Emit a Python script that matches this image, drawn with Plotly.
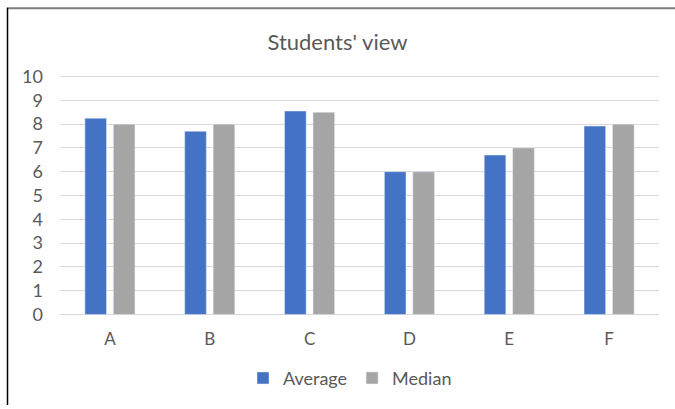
import plotly.graph_objects as go

categories = ["A", "B", "C", "D", "E", "F"]
average = [8.25, 7.7, 8.55, 6.0, 6.7, 7.92]
median = [8.0, 8.0, 8.5, 6.0, 7.0, 8.0]
y_ticks = list(range(0, 11))

FONT = "Lato"
TXT = "#595959"

fig = go.Figure()
fig.add_trace(go.Bar(x=categories, y=average, name="Average", marker_color="#4472C4"))
fig.add_trace(go.Bar(x=categories, y=median, name="Median", marker_color="#A5A5A5"))

W, H = 675, 409
L, R, T, B = 60, 16, 73, 88
pw, ph = W - L - R, H - T - B

def px_x(p):
    return (p - L) / pw

def px_y(p):
    return (H - B - p) / ph

fig.update_layout(
    width=W, height=H,
    margin=dict(l=L, r=R, t=T, b=B),
    paper_bgcolor="white", plot_bgcolor="white",
    barmode="group", bargap=0.43, bargroupgap=0.24,
    font=dict(family=FONT, color=TXT, size=17),
    title=dict(text="Students' view", x=0.5, xref="container", xanchor="center",
               y=1 - 42 / H, yref="container", yanchor="middle",
               font=dict(family=FONT, size=22, color=TXT)),
    legend=dict(orientation="h", x=px_x(350), xanchor="center", y=px_y(382), yanchor="middle",
                font=dict(family=FONT, size=18, color=TXT), itemwidth=30, traceorder="normal"),
    xaxis=dict(showgrid=False, showline=False, ticks="", ticklabelstandoff=9,
               tickfont=dict(family=FONT, size=17, color=TXT)),
    yaxis=dict(range=[-0.15, 10.15], tickvals=y_ticks, showgrid=True, gridcolor="#D9D9D9", gridwidth=1.3,
               zeroline=False, showline=False, ticks="", ticklabelstandoff=16,
               tickfont=dict(family=FONT, size=18, color=TXT)),
    shapes=[
        dict(type="line", xref="paper", yref="paper", x0=px_x(7), x1=px_x(675), y0=px_y(7.5), y1=px_y(7.5),
             line=dict(color="#7F7F7F", width=2)),
        dict(type="line", xref="paper", yref="paper", x0=px_x(7.5), x1=px_x(7.5), y0=px_y(7), y1=px_y(409),
             line=dict(color="#000000", width=1.5)),
    ],
)

fig.write_html("out.html")
